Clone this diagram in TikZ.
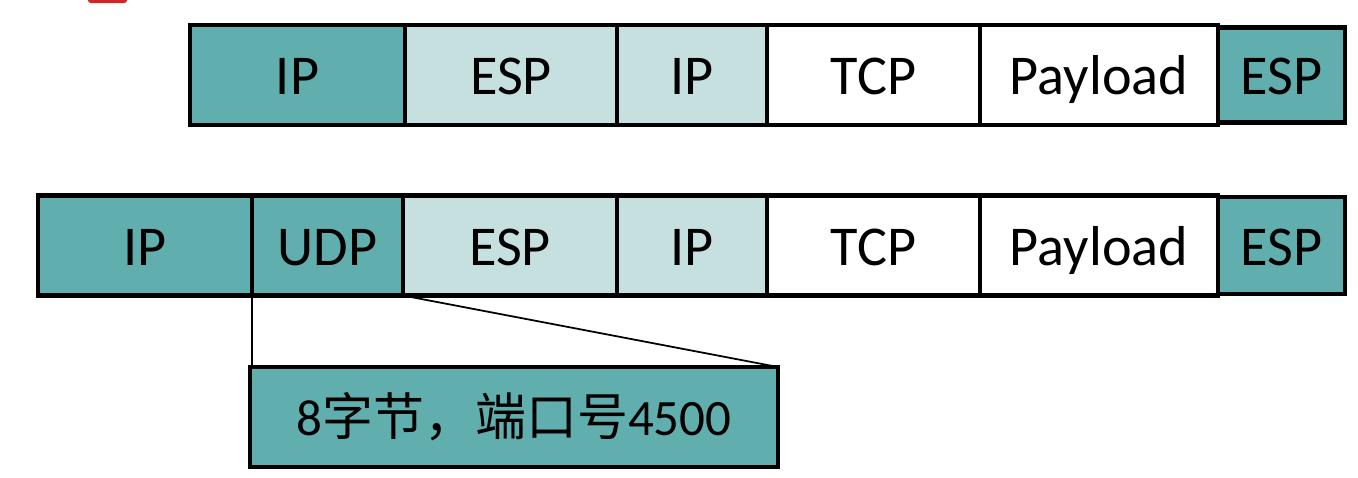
\documentclass[tikz,border=0pt]{standalone}
\usepackage{fontspec}
\setmainfont{Carlito}
\newfontfamily\cjk{Noto Sans CJK SC}
\definecolor{tealdark}{RGB}{96,174,173}
\definecolor{teallight}{RGB}{197,224,222}
\definecolor{markred}{RGB}{205,40,40}

\tikzset{
  field/.style={draw, line width=2.6pt, inner sep=0pt, outer sep=0pt,
    text height=0.8cm, text depth=0pt,
    font=\fontsize{32}{38}\selectfont}, % 报文字段
  link/.style={draw, line width=1pt} % 引出线
}

\begin{document}
\begin{tikzpicture}[x=0.02cm, y=-0.02cm]
    \useasboundingbox (0,0) rectangle (1358,477);
    \fill[markred, rounded corners=1.5pt] (88,-3) rectangle (127,3);

    % 原始 ESP 报文
    \foreach \nm/\xl/\xr/\h/\col/\txt in {IPo/190/405/100/tealdark/IP,
      ESP/405/617/100/teallight/ESP, IPi/617/767/100/teallight/IP,
      TCP/767/980/100/white/TCP, Pay/980/1218/100/white/Payload,
      Tr/1218/1345/95/tealdark/ESP} {
    \node[field, fill=\col, minimum width={(\xr-\xl)*0.02cm},
      minimum height={\h*0.02cm}] (top-\nm) at ({(\xl+\xr)/2},75) {\txt};
      }

    % NAT-T 封装后的报文
    \foreach \nm/\xl/\xr/\h/\col/\txt in {IPo/38/252/100/tealdark/IP,
      UDP/252/403/100/tealdark/UDP, ESP/403/617/100/teallight/ESP,
      IPi/617/767/100/teallight/IP, TCP/767/980/100/white/TCP,
      Pay/980/1218/100/white/Payload, Tr/1218/1345/97/tealdark/ESP} {
    \node[field, fill=\col, minimum width={(\xr-\xl)*0.02cm},
      minimum height={\h*0.02cm}] (bot-\nm) at ({(\xl+\xr)/2},245.5) {\txt};
      }

    \node[field, fill=tealdark, minimum width=10.56cm, minimum height=2cm,
      text height=0.72cm, font=\fontsize{29}{35}\selectfont]
      (note) at (514,417) {8{\cjk 字节，端口号}4500};

    \draw[link] (bot-UDP.south west) -- (bot-UDP.south west |- note.north);
    \draw[link] (bot-UDP.south east) -- (note.north east);
\end{tikzpicture}
\end{document}
